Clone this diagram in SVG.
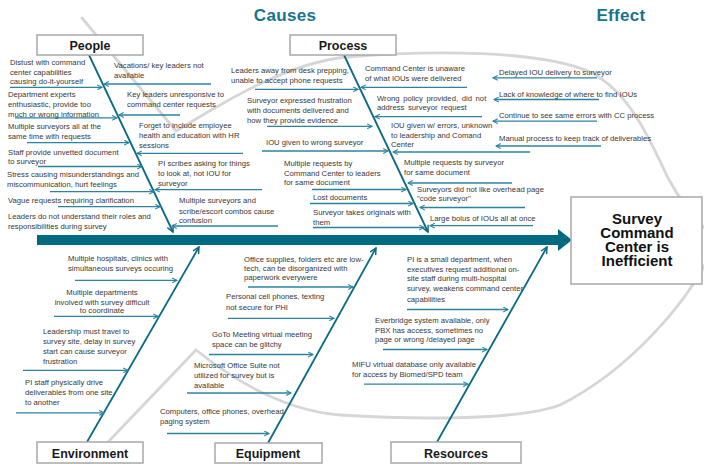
<svg xmlns="http://www.w3.org/2000/svg" width="704" height="464" viewBox="0 0 704 464">
<style>
.t{font-family:"Liberation Sans",Arial,sans-serif;font-size:7.7px;fill:#383838}
.tc{text-anchor:middle}
.lb{font-family:"Liberation Sans",Arial,sans-serif;font-weight:bold;font-size:12.5px;fill:#1a1a1a;text-anchor:middle}
.hd{font-family:"Liberation Sans",Arial,sans-serif;font-weight:bold;font-size:17px;fill:#17758a;text-anchor:middle;letter-spacing:0.3px}
.ef{font-family:"Liberation Sans",Arial,sans-serif;font-weight:bold;font-size:15px;fill:#111;text-anchor:middle}
.box{fill:#fff;stroke:#a8a8a8;stroke-width:1.5}
.ar{stroke:#2a84a0;stroke-width:1.3;fill:none;marker-end:url(#ah)}
.bone{stroke:#0b6a84;stroke-width:1.8;fill:none;marker-end:url(#ahb)}
.fish{fill:none;stroke:#d6d6d6;stroke-width:2.8;stroke-linecap:round}
</style>
<defs>
<marker id="ah" viewBox="0 0 10 10" refX="9" refY="5" markerWidth="6" markerHeight="6" markerUnits="userSpaceOnUse" orient="auto"><path d="M1,1 L9,5 L1,9" fill="none" stroke="#2a84a0" stroke-width="1.8"/></marker>
<marker id="ahb" viewBox="0 0 10 10" refX="9" refY="5" markerWidth="8" markerHeight="8" markerUnits="userSpaceOnUse" orient="auto"><path d="M1,1 L9,5 L1,9" fill="none" stroke="#0b6a84" stroke-width="1.8"/></marker>
</defs>
<rect width="704" height="464" fill="#fff"/>
<path class="fish" d="M82 18 L176 131 C215 108 285 62 348 57 C430 50 540 50 590 72 C630 92 650 140 668 178 C680 200 695 220 712 235 L712 250 C690 300 630 370 560 405 C520 420 420 420 340 415 C290 411 240 385 196 350 L87 464"/>
<g id="titles">
<text class="hd" x="285" y="21">Causes</text>
<text class="hd" x="621" y="21">Effect</text>
</g>
<g id="connectors">
<rect x="37" y="235" width="523" height="10" fill="#006a80"/>
<polygon points="558,229 572,240 558,251" fill="#006a80"/>
<line class="bone" x1="89" y1="55" x2="173" y2="232"/>
<line class="bone" x1="344" y1="55" x2="428" y2="232"/>
<line class="bone" x1="87" y1="442" x2="199" y2="247"/>
<line class="bone" x1="268" y1="443" x2="376" y2="248"/>
<line class="bone" x1="437" y1="442" x2="547" y2="247"/>
<line class="ar" x1="10" y1="87.3" x2="102" y2="87.3"/>
<line class="ar" x1="15" y1="117.8" x2="117" y2="117.8"/>
<line class="ar" x1="27" y1="142.7" x2="129" y2="142.7"/>
<line class="ar" x1="38" y1="166.5" x2="142" y2="166.5"/>
<line class="ar" x1="50" y1="191.7" x2="154" y2="191.7"/>
<line class="ar" x1="58" y1="206.7" x2="160" y2="206.7"/>
<line class="ar" x1="211" y1="84" x2="104" y2="84"/>
<line class="ar" x1="180" y1="115" x2="119" y2="115"/>
<line class="ar" x1="243" y1="153.3" x2="137" y2="153.3"/>
<line class="ar" x1="262" y1="189.7" x2="155" y2="189.7"/>
<line class="ar" x1="278" y1="226" x2="172" y2="226"/>
<line class="ar" x1="255" y1="89.3" x2="358" y2="89.3"/>
<line class="ar" x1="267" y1="126.3" x2="372" y2="126.3"/>
<line class="ar" x1="262" y1="151" x2="388" y2="151"/>
<line class="ar" x1="312" y1="189.5" x2="406" y2="189.5"/>
<line class="ar" x1="310" y1="203.5" x2="413" y2="203.5"/>
<line class="ar" x1="313" y1="227.5" x2="424" y2="227.5"/>
<line class="ar" x1="467" y1="87.3" x2="361" y2="87.3"/>
<line class="ar" x1="482" y1="116.7" x2="375" y2="116.7"/>
<line class="ar" x1="530" y1="152" x2="393" y2="152"/>
<line class="ar" x1="512" y1="183" x2="408" y2="183"/>
<line class="ar" x1="525" y1="207.5" x2="420" y2="207.5"/>
<line class="ar" x1="533" y1="225.7" x2="430" y2="225.7"/>
<line class="ar" x1="597" y1="77.9" x2="493" y2="77.9"/>
<line class="ar" x1="599" y1="99.5" x2="494" y2="99.5"/>
<line class="ar" x1="597" y1="121.2" x2="493" y2="121.2"/>
<line class="ar" x1="601" y1="146" x2="496" y2="146"/>
<line class="ar" x1="75" y1="280.3" x2="177" y2="280.3"/>
<line class="ar" x1="54" y1="316.3" x2="158" y2="316.3"/>
<line class="ar" x1="23" y1="370.3" x2="128" y2="370.3"/>
<line class="ar" x1="16" y1="412.8" x2="104" y2="412.8"/>
<line class="ar" x1="248" y1="287" x2="353" y2="287"/>
<line class="ar" x1="228" y1="318.3" x2="334" y2="318.3"/>
<line class="ar" x1="209" y1="354.5" x2="313" y2="354.5"/>
<line class="ar" x1="187" y1="393" x2="291" y2="393"/>
<line class="ar" x1="167" y1="433.5" x2="269" y2="433.5"/>
<line class="ar" x1="407" y1="309.5" x2="508" y2="309.5"/>
<line class="ar" x1="383" y1="349.5" x2="487" y2="349.5"/>
<line class="ar" x1="364" y1="384.2" x2="468" y2="384.2"/>
</g>
<g id="people"><rect class="box" x="37" y="35" width="106" height="20"/><text class="lb" x="90" y="50">People</text></g>
<g id="process"><rect class="box" x="290" y="35" width="106" height="20"/><text class="lb" x="343" y="50">Process</text></g>
<g id="environment"><rect class="box" x="37" y="442" width="106" height="21"/><text class="lb" x="90" y="457.5">Environment</text></g>
<g id="equipment"><rect class="box" x="215" y="443" width="107" height="20"/><text class="lb" x="268" y="457.5">Equipment</text></g>
<g id="resources"><rect class="box" x="391" y="442" width="130" height="21"/><text class="lb" x="456" y="457.5">Resources</text></g>
<g id="effect"><rect class="box" x="571" y="197" width="131" height="87"/>
<text class="ef"><tspan x="637" y="223.5">Survey</tspan><tspan x="637" y="237.5">Command</tspan><tspan x="637" y="251.5">Center is</tspan><tspan x="637" y="265.5">Inefficient</tspan></text></g>
<g id="people-causes">
<text class="t"><tspan x="10" y="64.5">Distust with command</tspan><tspan x="10" y="74.5">center capabilities</tspan><tspan x="10" y="83.5">causing do-it-yourself</tspan></text>
<text class="t"><tspan x="8" y="96.8">Department experts</tspan><tspan x="8" y="106.8">enthusiastic, provide too</tspan><tspan x="8" y="116.5">much or wrong information</tspan></text>
<text class="t"><tspan x="8" y="129.2">Multiple surveyors all at the</tspan><tspan x="8" y="138.5">same time with requests</tspan></text>
<text class="t"><tspan x="8" y="155.2">Staff provide unvetted document</tspan><tspan x="8" y="164.2">to surveyor</tspan></text>
<text class="t"><tspan x="7" y="176.8">Stress causing misunderstandings and</tspan><tspan x="7" y="186.5">miscommunication, hurt feelings</tspan></text>
<text class="t"><tspan x="8" y="203.2">Vague requests requiring clarification</tspan></text>
<text class="t"><tspan x="8" y="218.5">Leaders do not understand their roles and</tspan><tspan x="8" y="229.2">responsibilities during survey</tspan></text>
<text class="t"><tspan x="114" y="67.5">Vacations/ key leaders not</tspan><tspan x="114" y="77.5">available</tspan></text>
<text class="t"><tspan x="127" y="96.8">Key leaders unresponsive to</tspan><tspan x="127" y="106.8">command center requests</tspan></text>
<text class="t"><tspan x="139" y="127.5">Forget to include employee</tspan><tspan x="139" y="137.5">health and education with HR</tspan><tspan x="139" y="147.5">sessions</tspan></text>
<text class="t"><tspan x="158" y="165.8">PI scribes asking for things</tspan><tspan x="158" y="175.8">to look at, not IOU for</tspan><tspan x="158" y="185.8">surveyor</tspan></text>
<text class="t"><tspan x="179" y="203.2">Multiple surveyors and</tspan><tspan x="179" y="213.5">scribe/escort combos cause</tspan><tspan x="179" y="223.2">confusion</tspan></text>
</g>
<g id="process-causes">
<text class="t"><tspan x="231" y="73.2">Leaders away from desk prepping,</tspan><tspan x="231" y="83.2">unable to accept phone requests</tspan></text>
<text class="t"><tspan x="247" y="103.2">Surveyor expressed frustration</tspan><tspan x="247" y="113.2">with documents delivered and</tspan><tspan x="247" y="123.2">how they provide evidence</tspan></text>
<text class="t"><tspan x="266" y="145.2">IOU given to wrong surveyor</tspan></text>
<text class="t"><tspan x="284" y="165.8">Multiple requests by</tspan><tspan x="284" y="175.8">Command Center to leaders</tspan><tspan x="284" y="184.8">for same document</tspan></text>
<text class="t"><tspan x="313" y="199.8">Lost documents</tspan></text>
<text class="t"><tspan x="313" y="215.2">Surveyor takes originals with</tspan><tspan x="313" y="225.2">them</tspan></text>
<text class="t"><tspan x="365" y="70.8">Command Center is unaware</tspan><tspan x="365" y="80.8">of what IOUs were delivered</tspan></text>
<text class="t" word-spacing="1.5"><tspan x="377" y="100.8">Wrong policy provided, did not</tspan><tspan x="377" y="110.2">address surveyor request</tspan></text>
<text class="t"><tspan x="391" y="127.5">IOU given w/ errors, unknown</tspan><tspan x="391" y="137.5">to leadership and Comand</tspan><tspan x="391" y="146.5">Center</tspan></text>
<text class="t"><tspan x="404" y="165.2">Multiple requests by surveyor</tspan><tspan x="404" y="175.2">for same document</tspan></text>
<text class="t"><tspan x="417" y="191.5">Surveyors did not like overhead page</tspan><tspan x="417" y="200.8">"code surveyor"</tspan></text>
<text class="t"><tspan x="430" y="220.8">Large bolus of IOUs all at once</tspan></text>
</g>
<g id="effect-items">
<text class="t" x="499" y="74.8">Delayed IOU delivery to surveyor</text>
<text class="t" x="499" y="96.8">Lack of knowledge of where to find IOUs</text>
<text class="t" x="499" y="118.2">Continue to see same errors with CC process</text>
<text class="t" x="499" y="140.8">Manual process to keep track of deliverables</text>
</g>
<g id="environment-causes">
<text class="t"><tspan x="68" y="260.8">Multiple hospitals, clinics with</tspan><tspan x="68" y="270.8">simultaneous surveys occuring</tspan></text>
<text class="t tc"><tspan x="102" y="295.2">Multiple  departments</tspan><tspan x="102" y="304.5">involved with survey difficult</tspan><tspan x="102" y="312.8">to coordinate</tspan></text>
<text class="t"><tspan x="43" y="334.2">Leadership must travel to</tspan><tspan x="43" y="344.2">survey site, delay in survey</tspan><tspan x="43" y="354.2">start can cause surveyor</tspan><tspan x="43" y="364.2">frustration</tspan></text>
<text class="t"><tspan x="25" y="385.2">PI staff physically drive</tspan><tspan x="25" y="395.2">deliverables from one site</tspan><tspan x="25" y="405.2">to another</tspan></text>
</g>
<g id="equipment-causes">
<text class="t"><tspan x="244" y="261.8">Office supplies, folders etc are low-</tspan><tspan x="244" y="270.8">tech, can be disorganized with</tspan><tspan x="244" y="280.2">paperwork everywere</tspan></text>
<text class="t"><tspan x="226" y="299.2">Personal cell phones, texting</tspan><tspan x="226" y="309.8">not secure for PHI</tspan></text>
<text class="t"><tspan x="212" y="336.8">GoTo Meeting virtual meeting</tspan><tspan x="212" y="346.8">space can be glitchy</tspan></text>
<text class="t"><tspan x="194" y="367.5">Microsoft Office Suite not</tspan><tspan x="194" y="377.5">utilized for survey but is</tspan><tspan x="194" y="387.5">available</tspan></text>
<text class="t"><tspan x="160" y="414.2">Computers, office phones, overhead</tspan><tspan x="160" y="424.2">paging system</tspan></text>
</g>
<g id="resources-causes">
<text class="t"><tspan x="407" y="261.8">PI is a small department, when</tspan><tspan x="407" y="271.5">executives request additional on-</tspan><tspan x="407" y="280.8">site staff during multi-hospital</tspan><tspan x="407" y="290.8">survey, weakens command center</tspan><tspan x="407" y="301.5">capabilities</tspan></text>
<text class="t"><tspan x="375" y="323.2">Everbridge system available, only</tspan><tspan x="375" y="332.5">PBX has access, sometimes no</tspan><tspan x="375" y="341.8">page or wrong /delayed page</tspan></text>
<text class="t"><tspan x="352" y="366.5">MIFU virtual database only available</tspan><tspan x="352" y="376.5">for access by Biomed/SPD team</tspan></text>
</g>
</svg>
